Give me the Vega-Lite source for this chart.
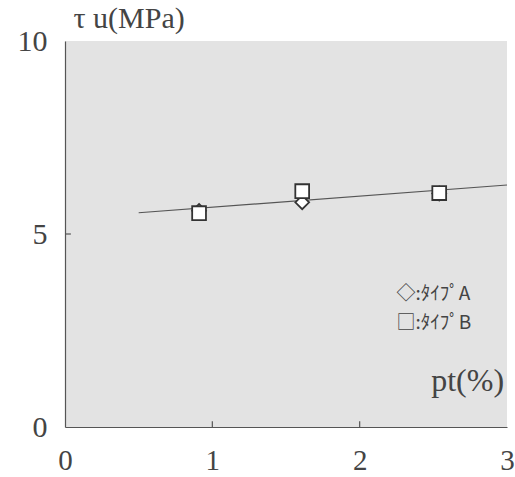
{
  "$schema": "https://vega.github.io/schema/vega-lite/v6.json",
  "width": 442,
  "height": 386,
  "autosize": "none",
  "padding": {"left": 65, "top": 41, "right": 8, "bottom": 50},
  "background": "white",
  "config": {
    "view": {"fill": "#e3e3e3", "stroke": null},
    "axis": {"grid": false, "ticks": false, "domainColor": "#555", "domainWidth": 1.2, "labelFont": "Liberation Serif", "labelColor": "#444", "titleFont": "Liberation Serif"}
  },
  "datasets": {
    "pts": [
      {"pt": 0.91, "tau": 5.6, "type": "A"},
      {"pt": 1.61, "tau": 5.82, "type": "A"},
      {"pt": 2.54, "tau": 6.05, "type": "A"},
      {"pt": 0.91, "tau": 5.54, "type": "B"},
      {"pt": 1.61, "tau": 6.11, "type": "B"},
      {"pt": 2.54, "tau": 6.06, "type": "B"}
    ],
    "fit": [
      {"pt": 0.5, "tau": 5.55},
      {"pt": 3.0, "tau": 6.27}
    ],
    "ticks": [
      {"x1": 1, "x2": 1, "y1": 0, "y2": 0.15},
      {"x1": 2, "x2": 2, "y1": 0, "y2": 0.15},
      {"x1": 0, "x2": 0.04, "y1": 5, "y2": 5}
    ],
    "notes": [
      {"pt": 2.25, "tau": 3.45, "label": "◇:ﾀｲﾌﾟA", "kind": "legend"},
      {"pt": 2.25, "tau": 2.7, "label": "□:ﾀｲﾌﾟB", "kind": "legend"},
      {"pt": 2.98, "tau": 1.2, "label": "pt(%)", "kind": "axis"}
    ]
  },
  "layer": [
    {
      "data": {"name": "fit"},
      "mark": {"type": "line", "color": "#555", "strokeWidth": 1.2},
      "encoding": {
        "x": {"field": "pt", "type": "quantitative", "scale": {"domain": [0, 3], "nice": false},
          "axis": {"values": [0, 1, 2, 3], "format": "d", "labelFontSize": 29, "labelPadding": 19, "title": null, "labelFlush": false}},
        "y": {"field": "tau", "type": "quantitative", "scale": {"domain": [0, 10], "nice": false},
          "axis": {"values": [0, 5, 10], "labelFontSize": 30, "labelPadding": 18, "title": "τ u(MPa)", "titleAngle": 0, "titleAlign": "left", "titleBaseline": "alphabetic", "titleX": 8, "titleY": -14, "titleFontSize": 30, "titleFontWeight": "normal", "titleColor": "#444", "labelFlush": false}}
      }
    },
    {
      "data": {"name": "ticks"},
      "mark": {"type": "rule", "color": "#555", "strokeWidth": 1.2},
      "encoding": {
        "x": {"field": "x1", "type": "quantitative"},
        "x2": {"field": "x2"},
        "y": {"field": "y1", "type": "quantitative"},
        "y2": {"field": "y2"}
      }
    },
    {
      "data": {"name": "pts"},
      "transform": [{"filter": "datum.type === 'A'"}],
      "mark": {"type": "point", "shape": "diamond", "filled": true, "fill": "white", "stroke": "#333", "strokeWidth": 1.8, "size": 190, "opacity": 1},
      "encoding": {
        "x": {"field": "pt", "type": "quantitative"},
        "y": {"field": "tau", "type": "quantitative"}
      }
    },
    {
      "data": {"name": "pts"},
      "transform": [{"filter": "datum.type === 'B'"}],
      "mark": {"type": "point", "shape": "square", "filled": true, "fill": "white", "stroke": "#333", "strokeWidth": 1.8, "size": 190, "opacity": 1},
      "encoding": {
        "x": {"field": "pt", "type": "quantitative"},
        "y": {"field": "tau", "type": "quantitative"}
      }
    },
    {
      "data": {"name": "notes"},
      "transform": [{"filter": "datum.kind === 'legend'"}],
      "mark": {"type": "text", "align": "left", "baseline": "middle", "font": "Noto Sans CJK JP", "fontSize": 19, "color": "#444"},
      "encoding": {
        "x": {"field": "pt", "type": "quantitative"},
        "y": {"field": "tau", "type": "quantitative"},
        "text": {"field": "label"}
      }
    },
    {
      "data": {"name": "notes"},
      "transform": [{"filter": "datum.kind === 'axis'"}],
      "mark": {"type": "text", "align": "right", "baseline": "middle", "font": "Liberation Serif", "fontSize": 32, "color": "#444"},
      "encoding": {
        "x": {"field": "pt", "type": "quantitative"},
        "y": {"field": "tau", "type": "quantitative"},
        "text": {"field": "label"}
      }
    }
  ]
}
